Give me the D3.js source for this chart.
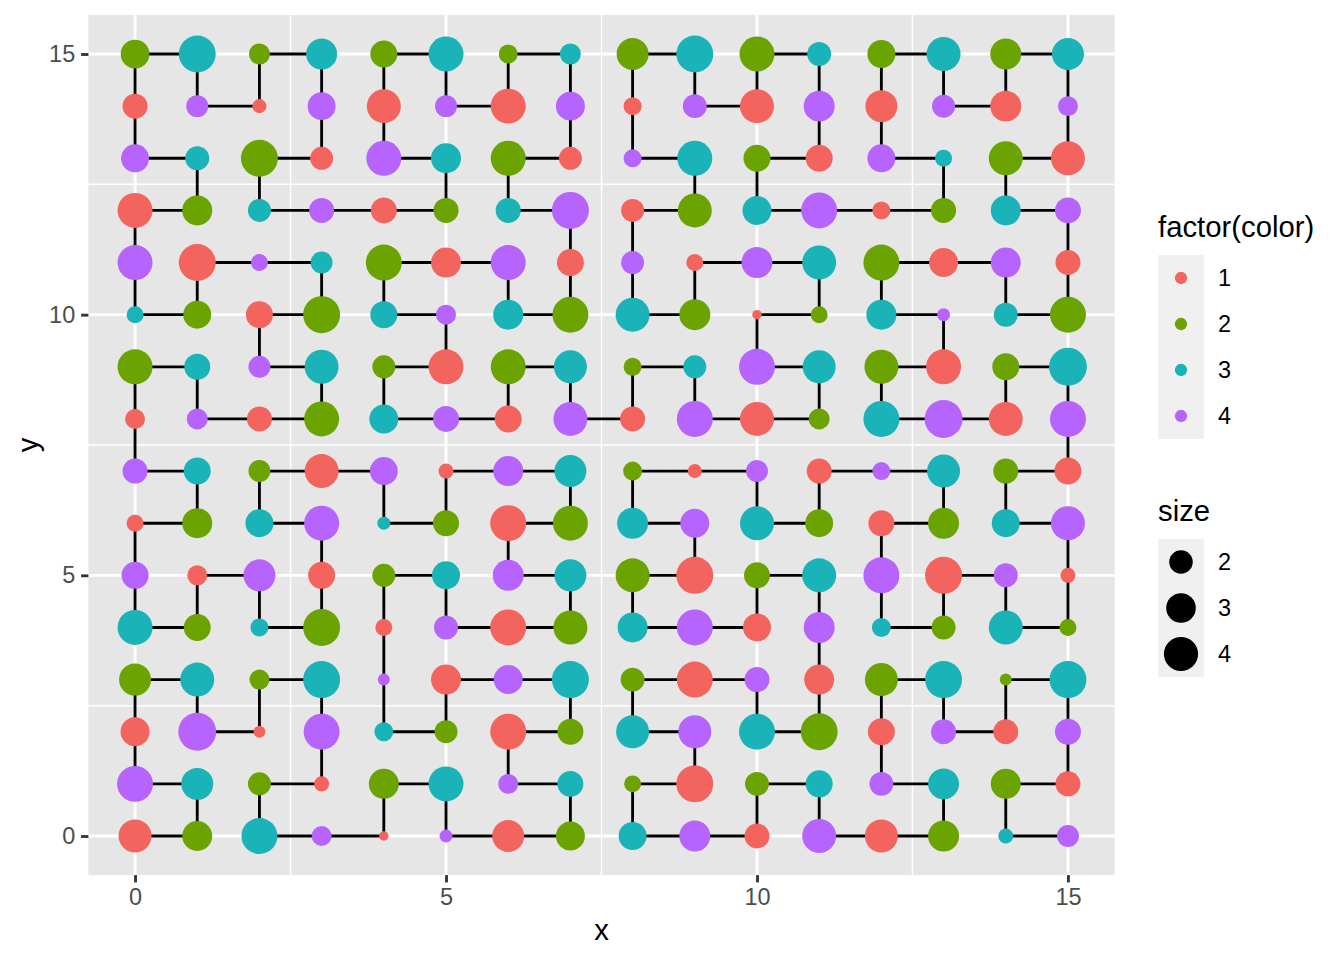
<!DOCTYPE html>
<html>
<head>
<meta charset="utf-8">
<script src="https://cdn.jsdelivr.net/npm/d3@7"></script>
<style>
  body { margin: 0; background: #fff; }
  text { font-family: "Liberation Sans", Arial, sans-serif; }
</style>
</head>
<body>
<svg width="1344" height="960"></svg>
<script>
// ---- data ----
var xTicks = [0, 5, 10, 15];
var yTicks = [0, 5, 10, 15];
var colorLevels = ["1", "2", "3", "4"];
var sizeBreaks = [2, 3, 4];

// one string per row, top row (y = 15) first, one digit per x = 0..15
var colorRows = [
  "2323232323232323",
  "1414141414141414",
  "4321432143214321",
  "1234123412341234",
  "4143214141432141",
  "3212343232123432",
  "2343212323432123",
  "1412341414123414",
  "4321414321414321",
  "1234321234321234",
  "4141234321234141",
  "3232141234143232",
  "2323414321412323",
  "1414321234321414",
  "4321234321234321",
  "1234141234141234"
];

// size values, same row order
var sizeRows = [
  [2.83, 4.69, 1.69, 3.28, 2.53, 4.18, 1.48, 1.69, 3.49, 4.69, 4.18, 2.06, 2.70, 3.94, 3.28, 3.49],
  [2.21, 1.80, 1.15, 2.70, 3.94, 1.80, 4.18, 2.88, 1.40, 2.06, 3.94, 3.28, 3.49, 1.93, 3.28, 1.58],
  [2.70, 2.06, 4.69, 1.93, 4.18, 3.08, 4.18, 1.93, 1.40, 4.18, 2.53, 2.53, 2.70, 1.32, 3.94, 3.94],
  [4.18, 3.08, 1.93, 2.21, 2.36, 2.21, 2.21, 4.69, 1.93, 3.94, 2.88, 4.43, 1.40, 2.21, 3.08, 2.36],
  [4.18, 4.69, 1.32, 1.80, 4.43, 3.08, 4.18, 2.53, 1.93, 1.32, 3.28, 3.94, 4.43, 2.88, 3.08, 2.21],
  [1.32, 2.70, 2.53, 4.69, 2.53, 1.58, 3.08, 4.43, 3.94, 3.28, 1.05, 1.32, 3.08, 1.11, 2.06, 4.43],
  [4.18, 2.36, 1.80, 3.94, 1.93, 4.18, 4.18, 3.71, 1.40, 1.93, 4.43, 3.71, 3.94, 4.18, 2.53, 4.95],
  [1.58, 1.69, 2.21, 4.18, 2.88, 2.36, 2.53, 3.94, 2.21, 4.43, 3.94, 1.69, 4.43, 4.95, 3.94, 4.43],
  [2.21, 2.53, 1.80, 3.94, 2.70, 1.20, 3.08, 3.49, 1.48, 1.15, 1.80, 2.21, 1.40, 3.71, 2.21, 2.53],
  [1.32, 3.08, 2.70, 4.18, 1.11, 2.36, 4.43, 4.18, 3.28, 2.88, 3.94, 2.70, 2.36, 3.28, 2.70, 3.94],
  [2.53, 1.58, 3.49, 2.53, 1.93, 2.70, 3.28, 3.49, 3.94, 4.69, 2.36, 3.94, 4.43, 4.69, 2.06, 1.20],
  [4.18, 2.53, 1.40, 4.69, 1.32, 2.06, 4.43, 3.94, 3.08, 4.43, 2.70, 3.28, 1.48, 2.06, 3.94, 1.32],
  [3.49, 3.94, 1.58, 4.69, 1.08, 3.08, 2.88, 4.69, 2.06, 4.43, 2.21, 3.08, 3.71, 4.69, 1.08, 4.69],
  [2.88, 4.95, 1.08, 4.43, 1.48, 1.93, 4.43, 2.36, 3.71, 3.71, 4.43, 4.69, 2.53, 2.21, 2.21, 2.36],
  [4.43, 3.49, 1.93, 1.20, 3.08, 4.18, 1.58, 2.36, 1.32, 4.69, 2.06, 2.53, 2.06, 3.28, 3.08, 2.21],
  [3.71, 3.08, 4.43, 1.58, 1.05, 1.11, 3.49, 2.88, 2.70, 3.28, 2.21, 3.94, 3.71, 3.28, 1.20, 1.80]
];

// line links seen in the picture: '1' = joined to the neighbour on the right
var hLinks = [
  "101010101010101",
  "010001000100010",
  "101010101010101",
  "101110101011101",
  "011011000110110",
  "101010101010101",
  "101010101010101",
  "011011010110110",
  "101101101101101",
  "101010101010101",
  "010010101010010",
  "101001101100101",
  "101001101100101",
  "010010101010010",
  "101010101010101",
  "101101101101101"
];
// '1' = joined to the neighbour in the row below (first string: y 15 to y 14)
var vLinks = [
  "1111111111111111",
  "1001100110011001",
  "0110011001100110",
  "1000000110000001",
  "1101101111011011",
  "0010010000100100",
  "1101101111011011",
  "1000000000000001",
  "0110110110110110",
  "1001001001001001",
  "1111110110111111",
  "0000100000010000",
  "1111110110111111",
  "1001001001001001",
  "0110110110110110"
];

var palette = ["#F4645F", "#6BA300", "#19B3B8", "#B763FD"];

// ---- build points ----
var nRow = colorRows.length;
var points = [];
colorRows.forEach(function(row, r) {
  for (var c = 0; c < row.length; c++) {
    points.push({x: c, y: nRow - 1 - r, color: row[c], size: sizeRows[r][c]});
  }
});

// adjacency from the links
var adj = {};
function key(x, y) { return x + "," + y; }
function link(a, b) {
  (adj[a] = adj[a] || []).push(b);
  (adj[b] = adj[b] || []).push(a);
}
hLinks.forEach(function(s, r) {
  var y = nRow - 1 - r;
  for (var c = 0; c < s.length; c++) if (s[c] == "1") link(key(c, y), key(c + 1, y));
});
vLinks.forEach(function(s, r) {
  var y = nRow - 1 - r;
  for (var c = 0; c < s.length; c++) if (s[c] == "1") link(key(c, y), key(c, y - 1));
});

// walk the path from an end
var start = (adj[key(0, 0)] || []).length == 1 ? key(0, 0)
  : Object.keys(adj).filter(function(k) { return adj[k].length == 1; })[0];
var route = [start], seen = {};
seen[start] = true;
var cur = start;
while (true) {
  var nxt = adj[cur].filter(function(k) { return !seen[k]; })[0];
  if (!nxt) break;
  seen[nxt] = true;
  route.push(nxt);
  cur = nxt;
}
route = route.map(function(k) { var p = k.split(","); return [+p[0], +p[1]]; });

// ---- chart ----
var svg = d3.select("svg");
var panel = {left: 88.4, right: 1114.6, top: 14.9, bottom: 875.1};
var k = 192 / 72; // px per pt

var xExt = d3.extent(points, function(d) { return d.x; });
var yExt = d3.extent(points, function(d) { return d.y; });
var xPad = (xExt[1] - xExt[0]) * 0.05, yPad = (yExt[1] - yExt[0]) * 0.05;

var x = d3.scaleLinear().domain([xExt[0] - xPad, xExt[1] + xPad]).range([panel.left, panel.right]);
var y = d3.scaleLinear().domain([yExt[0] - yPad, yExt[1] + yPad]).range([panel.bottom, panel.top]);

var colour = d3.scaleOrdinal().domain(colorLevels).range(palette);

var sizeNorm = d3.scaleLinear().domain(d3.extent(points, function(d) { return d.size; })).range([0, 1]).clamp(true);
var sizeAes = d3.scaleSqrt().domain([0, 1]).range([1, 6]);
function radius(v) { return (sizeAes(sizeNorm(v)) * 2.845 * 0.75 * k + 3.78) / 2; }

// panel background + grid
svg.append("rect")
  .attr("x", panel.left).attr("y", panel.top)
  .attr("width", panel.right - panel.left).attr("height", panel.bottom - panel.top)
  .attr("fill", "#E6E6E6");

var minor = [2.5, 7.5, 12.5];
var grid = svg.append("g").attr("stroke", "#fff");
grid.selectAll(".vmin").data(minor).enter().append("line")
  .attr("x1", x).attr("x2", x).attr("y1", panel.top).attr("y2", panel.bottom)
  .attr("stroke-width", 1.42);
grid.selectAll(".hmin").data(minor).enter().append("line")
  .attr("y1", y).attr("y2", y).attr("x1", panel.left).attr("x2", panel.right)
  .attr("stroke-width", 1.42);
grid.selectAll(".vmaj").data(xTicks).enter().append("line")
  .attr("x1", x).attr("x2", x).attr("y1", panel.top).attr("y2", panel.bottom)
  .attr("stroke-width", 2.85);
grid.selectAll(".hmaj").data(yTicks).enter().append("line")
  .attr("y1", y).attr("y2", y).attr("x1", panel.left).attr("x2", panel.right)
  .attr("stroke-width", 2.85);

// path then points
svg.append("path")
  .datum(route)
  .attr("fill", "none")
  .attr("stroke", "#000")
  .attr("stroke-width", 2.85)
  .attr("stroke-linejoin", "round")
  .attr("d", d3.line().x(function(d) { return x(d[0]); }).y(function(d) { return y(d[1]); }));

svg.append("g").selectAll("circle")
  .data(points)
  .enter().append("circle")
    .attr("cx", function(d) { return x(d.x); })
    .attr("cy", function(d) { return y(d.y); })
    .attr("r", function(d) { return radius(d.size); })
    .attr("fill", function(d) { return colour(d.color); });

// axes
var tickLen = 7.3, tickCol = "#333", labCol = "#4D4D4D", tickFont = 23.5, titleFont = 29.3;

var xAxis = svg.append("g")
  .attr("transform", "translate(0," + panel.bottom + ")")
  .call(d3.axisBottom(x).tickValues(xTicks).tickSize(tickLen).tickPadding(5.9));
var yAxis = svg.append("g")
  .attr("transform", "translate(" + panel.left + ",0)")
  .call(d3.axisLeft(y).tickValues(yTicks).tickSize(tickLen).tickPadding(5.9));

[xAxis, yAxis].forEach(function(a) {
  a.select(".domain").remove();
  a.selectAll(".tick line").attr("stroke", tickCol).attr("stroke-width", 2.85);
  a.selectAll(".tick text")
    .attr("fill", labCol)
    .attr("font-size", tickFont)
    .attr("font-family", "Liberation Sans, Arial, sans-serif");
});

svg.append("text")
  .attr("x", (panel.left + panel.right) / 2).attr("y", 940)
  .attr("text-anchor", "middle").attr("font-size", titleFont)
  .text("x");
svg.append("text")
  .attr("transform", "translate(38," + (panel.top + panel.bottom) / 2 + ") rotate(-90)")
  .attr("text-anchor", "middle").attr("font-size", titleFont)
  .text("y");

// legends
var keyX = 1158, keyW = 46, labX = 1218;

svg.append("text").attr("x", keyX).attr("y", 237).attr("font-size", titleFont).text("factor(color)");
var cLeg = svg.append("g").selectAll("g")
  .data(colorLevels)
  .enter().append("g")
    .attr("transform", function(d, i) { return "translate(" + keyX + "," + (255 + i * keyW) + ")"; });
cLeg.append("rect").attr("width", keyW).attr("height", keyW).attr("fill", "#F0F0F0");
cLeg.append("circle").attr("cx", keyW / 2).attr("cy", keyW / 2)
  .attr("r", (1.5 * 2.845 * 0.75 * k + 3.78) / 2)
  .attr("fill", colour);
cLeg.append("text").attr("x", labX - keyX).attr("y", keyW / 2).attr("dy", "0.35em")
  .attr("font-size", tickFont).text(function(d) { return d; });

svg.append("text").attr("x", keyX).attr("y", 521).attr("font-size", titleFont).text("size");
var sLeg = svg.append("g").selectAll("g")
  .data(sizeBreaks)
  .enter().append("g")
    .attr("transform", function(d, i) { return "translate(" + keyX + "," + (539 + i * keyW) + ")"; });
sLeg.append("rect").attr("width", keyW).attr("height", keyW).attr("fill", "#F0F0F0");
sLeg.append("circle").attr("cx", keyW / 2).attr("cy", keyW / 2)
  .attr("r", radius)
  .attr("fill", "#000");
sLeg.append("text").attr("x", labX - keyX).attr("y", keyW / 2).attr("dy", "0.35em")
  .attr("font-size", tickFont).text(function(d) { return d; });
</script>
</body>
</html>
